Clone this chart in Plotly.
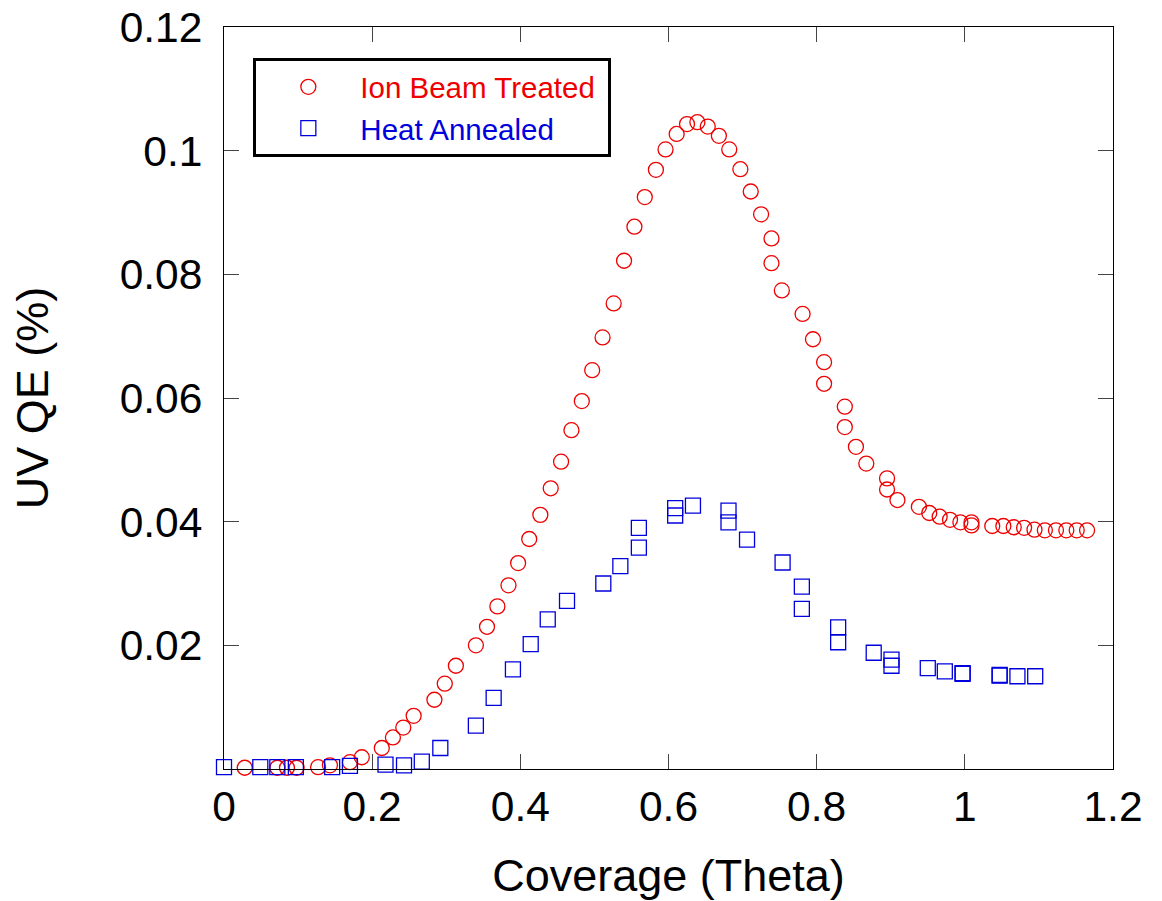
import plotly.graph_objects as go

ion_x = [0.028, 0.072, 0.085, 0.098, 0.127, 0.143, 0.170, 0.186, 0.213, 0.228,
         0.242, 0.256, 0.284, 0.298, 0.313, 0.340, 0.355, 0.369, 0.384, 0.397,
         0.412, 0.427, 0.441, 0.455, 0.469, 0.483, 0.497, 0.511, 0.526, 0.540,
         0.554, 0.568, 0.583, 0.596, 0.611, 0.625, 0.639, 0.653, 0.668, 0.682,
         0.697, 0.711, 0.725, 0.739, 0.739, 0.753, 0.781, 0.795, 0.810, 0.810,
         0.838, 0.838, 0.853, 0.867, 0.895, 0.895, 0.909, 0.938, 0.952, 0.966,
         0.980, 0.994, 1.009, 1.009, 1.037, 1.052, 1.066, 1.080, 1.094, 1.108,
         1.123, 1.137, 1.151, 1.165]
ion_y = [0.0002, 0.0002, 0.0002, 0.0002, 0.0003, 0.0006, 0.0011, 0.0019, 0.0034, 0.0051,
         0.0067, 0.0086, 0.0112, 0.0138, 0.0167, 0.0200, 0.0230, 0.0263, 0.0297, 0.0333,
         0.0372, 0.0411, 0.0454, 0.0497, 0.0548, 0.0595, 0.0645, 0.0698, 0.0753, 0.0822,
         0.0877, 0.0925, 0.0969, 0.1002, 0.1027, 0.1043, 0.1046, 0.1039, 0.1024, 0.1002,
         0.0970, 0.0934, 0.0897, 0.0858, 0.0818, 0.0774, 0.0736, 0.0695, 0.0658, 0.0623,
         0.0586, 0.0553, 0.0521, 0.0494, 0.0470, 0.0452, 0.0435, 0.0424, 0.0414, 0.0408,
         0.0403, 0.0399, 0.0399, 0.0394, 0.0393, 0.0393, 0.0391, 0.0390, 0.0387, 0.0386,
         0.0386, 0.0386, 0.0386, 0.0386]

heat_x = [0.000, 0.049, 0.072, 0.097, 0.146, 0.170, 0.218, 0.243, 0.267, 0.292,
          0.340, 0.364, 0.390, 0.414, 0.437, 0.463, 0.512, 0.535, 0.560, 0.560,
          0.609, 0.609, 0.633, 0.681, 0.681, 0.706, 0.754, 0.780, 0.780, 0.829,
          0.829, 0.877, 0.901, 0.901, 0.950, 0.973, 0.997, 0.997, 1.047, 1.047,
          1.071, 1.095]
heat_y = [0.0003, 0.0003, 0.0003, 0.0003, 0.0003, 0.0005, 0.0007, 0.0006, 0.0012, 0.0034,
          0.0070, 0.0115, 0.0161, 0.0202, 0.0242, 0.0272, 0.0300, 0.0328, 0.0358, 0.0390,
          0.0410, 0.0422, 0.0426, 0.0418, 0.0399, 0.0371, 0.0334, 0.0295, 0.0259, 0.0229,
          0.0205, 0.0188, 0.0177, 0.0167, 0.0163, 0.0158, 0.0155, 0.0154, 0.0152, 0.0151,
          0.0150, 0.0150]

x_ticks = [0, 0.2, 0.4, 0.6, 0.8, 1.0, 1.2]
x_tick_text = ["0", "0.2", "0.4", "0.6", "0.8", "1", "1.2"]
y_ticks = [0.02, 0.04, 0.06, 0.08, 0.10, 0.12]
y_tick_text = ["0.02", "0.04", "0.06", "0.08", "0.1", "0.12"]

RED = "#ee0000"
BLUE = "#0000dd"
FONT = "Liberation Sans, Arial, Helvetica, sans-serif"

fig = go.Figure()
fig.add_trace(go.Scatter(
    x=ion_x, y=ion_y, mode="markers",
    name=f"<span style='color:{RED}'>Ion Beam Treated&nbsp;</span>",
    marker=dict(symbol="circle-open", size=15, color=RED, line=dict(width=1.3, color=RED)),
    cliponaxis=False,
))
fig.add_trace(go.Scatter(
    x=heat_x, y=heat_y, mode="markers",
    name=f"<span style='color:{BLUE}'>Heat Annealed</span>",
    marker=dict(symbol="square-open", size=15, color=BLUE, line=dict(width=1.3, color=BLUE)),
    cliponaxis=False,
))

axis_common = dict(
    showline=True, linecolor="black", linewidth=1.2, mirror="ticks",
    ticks="inside", ticklen=15, tickwidth=1.2, tickcolor="#444",
    showgrid=False, zeroline=False, automargin=False,
    ticklabeloverflow="allow",
    tickfont=dict(family=FONT, size=42.5, color="black"),
)

fig.update_layout(
    width=1162, height=901,
    margin=dict(l=224, r=49, t=27, b=132),
    paper_bgcolor="white", plot_bgcolor="white",
    font=dict(family=FONT, color="black"),
    xaxis=dict(range=[0, 1.2], tickvals=x_ticks, ticktext=x_tick_text,
               title=dict(text="Coverage (Theta)", font=dict(family=FONT, size=45), standoff=37),
               **axis_common),
    yaxis=dict(range=[0, 0.12], tickvals=y_ticks, ticktext=y_tick_text,
               ticklabelstandoff=12,
               title=dict(text="UV QE (%)", font=dict(family=FONT, size=45), standoff=56),
               **axis_common),
    legend=dict(x=0.033, y=0.958, xanchor="left", yanchor="top",
                bgcolor="white", bordercolor="black", borderwidth=3,
                font=dict(family=FONT, size=29.5), itemwidth=94,
                tracegroupgap=0),
    showlegend=True,
)

fig.write_html("out.html", config={"displayModeBar": False},
               post_script="document.body.style.margin='0';document.body.style.overflow='hidden';")
